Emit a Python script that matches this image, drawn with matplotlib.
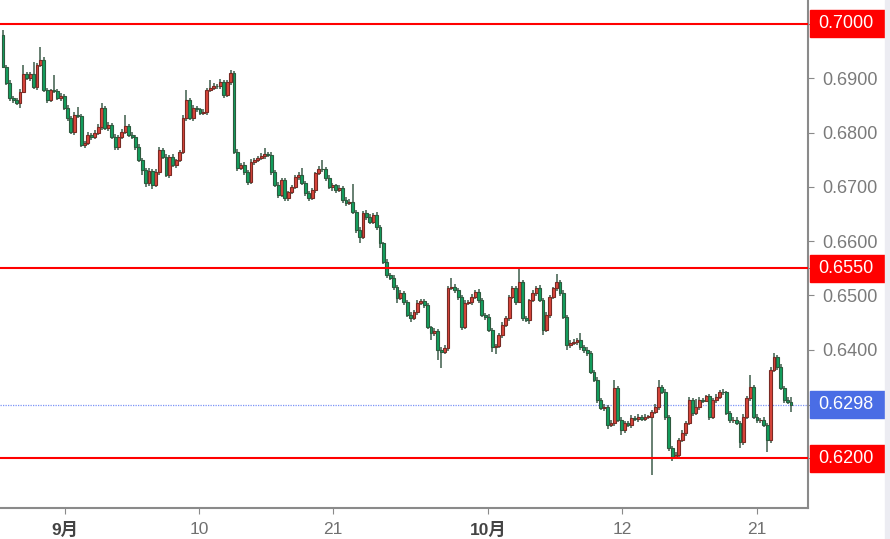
import numpy as np
import matplotlib
matplotlib.use("Agg")
import matplotlib.pyplot as plt
from matplotlib.patches import Rectangle

plt.rcParams['font.family'] = ['Liberation Sans', 'Noto Sans CJK SC', 'DejaVu Sans']

# candle closes (open = previous close), first open given separately
firstOpen = 0.6980
closes = [
    .6921, .6891, .6864, .6860, .6854, .6875, .6908, .6900, .6908, .6884,
    .6924, .6934, .6878, .6860, .6878, .6877, .6864, .6867, .6845, .6827,
    .6801, .6832, .6830, .6777, .6781, .6796, .6792, .6799, .6810, .6845,
    .6808, .6814, .6792, .6773, .6792, .6801, .6812, .6796, .6792, .6773,
    .6749, .6731, .6707, .6729, .6703, .6727, .6768, .6755, .6722, .6755,
    .6740, .6749, .6764, .6827, .6860, .6827, .6845, .6843, .6836, .6838,
    .6878, .6882, .6886, .6885, .6893, .6869, .6893, .6910, .6764, .6734,
    .6740, .6727, .6709, .6746, .6749, .6753, .6757, .6760, .6759, .6727,
    .6703, .6685, .6712, .6679, .6690, .6699, .6718, .6722, .6707, .6688,
    .6679, .6694, .6725, .6733, .6732, .6716, .6699, .6703, .6694, .6698,
    .6676, .6670, .6672, .6653, .6620, .6607, .6652, .6644, .6635, .6648,
    .6626, .6596, .6561, .6537, .6532, .6515, .6495, .6504, .6488, .6464,
    .6458, .6469, .6486, .6489, .6482, .6441, .6430, .6434, .6399, .6395,
    .6403, .6513, .6515, .6510, .6497, .6441, .6486, .6488, .6497, .6506,
    .6491, .6464, .6460, .6436, .6404, .6406, .6427, .6445, .6458, .6497,
    .6513, .6488, .6524, .6458, .6454, .6491, .6504, .6513, .6491, .6436,
    .6464, .6497, .6513, .6524, .6504, .6460, .6408, .6412, .6414, .6418,
    .6404, .6399, .6393, .6359, .6344, .6307, .6292, .6294, .6261, .6265,
    .6329, .6270, .6252, .6265, .6261, .6274, .6272, .6276, .6272, .6276,
    .6276, .6285, .6294, .6331, .6322, .6276, .6218, .6202, .6206, .6233,
    .6246, .6265, .6307, .6283, .6294, .6307, .6306, .6314, .6276, .6307,
    .6312, .6322, .6321, .6283, .6270, .6271, .6265, .6229, .6276, .6311,
    .6331, .6276, .6270, .6271, .6261, .6233, .6362, .6386, .6368, .6329,
    .6307, .6303, .6298,
]

# wick lengths above / below the body, in pips
upperWick = [
    9, 4, 5, 3, 4, 5, 16, 4, 3, 22,
    4, 24, 5, 4, 3, 28, 4, 5, 4, 6,
    4, 5, 15, 4, 3, 5, 4, 6, 5, 9,
    4, 5, 3, 6, 4, 5, 20, 4, 5, 4,
    5, 4, 3, 5, 4, 5, 6, 4, 5, 4,
    5, 3, 4, 6, 18, 4, 5, 4, 3, 5,
    4, 14, 5, 4, 5, 4, 3, 6, 4, 5,
    4, 5, 3, 5, 4, 4, 5, 11, 4, 5,
    4, 6, 5, 4, 3, 5, 4, 5, 13, 4,
    5, 4, 3, 5, 17, 4, 5, 4, 3, 5,
    4, 5, 6, 33, 4, 5, 4, 6, 5, 4,
    5, 4, 3, 5, 4, 6, 4, 5, 4, 3,
    5, 4, 6, 4, 5, 4, 3, 5, 4, 6,
    5, 4, 17, 5, 4, 3, 6, 4, 5, 4,
    5, 4, 3, 6, 4, 5, 4, 5, 4, 3,
    5, 4, 26, 5, 4, 3, 5, 4, 6, 4,
    5, 4, 3, 15, 4, 5, 4, 6, 5, 4,
    12, 4, 5, 4, 3, 5, 4, 6, 4, 5,
    15, 4, 5, 4, 3, 5, 4, 6, 4, 5,
    3, 4, 5, 13, 4, 5, 3, 4, 5, 4,
    6, 4, 5, 4, 14, 5, 4, 3, 5, 4,
    6, 4, 5, 3, 4, 5, 4, 3, 5, 4,
    22, 4, 5, 3, 5, 4, 6, 7, 4, 5,
    4, 5, 9,
]
lowerWick = [
    3, 4, 6, 5, 4, 9, 3, 4, 5, 4,
    5, 3, 4, 5, 4, 5, 4, 6, 3, 5,
    4, 5, 3, 4, 6, 4, 5, 4, 3, 5,
    4, 5, 4, 6, 5, 4, 3, 5, 4, 5,
    4, 9, 8, 5, 7, 4, 5, 4, 4, 5,
    4, 5, 3, 4, 5, 4, 6, 5, 4, 3,
    5, 4, 3, 5, 4, 6, 4, 5, 4, 5,
    4, 5, 6, 4, 5, 3, 4, 5, 4, 6,
    4, 5, 4, 6, 5, 4, 3, 5, 4, 5,
    6, 4, 5, 3, 4, 5, 4, 6, 5, 4,
    5, 5, 4, 3, 5, 11, 4, 5, 4, 3,
    5, 8, 4, 5, 4, 6, 9, 4, 5, 4,
    7, 4, 5, 4, 5, 4, 12, 5, 19, 29,
    4, 5, 4, 6, 5, 5, 4, 3, 5, 4,
    5, 4, 6, 4, 8, 13, 4, 5, 4, 6,
    4, 5, 3, 5, 4, 6, 4, 5, 4, 10,
    4, 5, 4, 6, 5, 4, 8, 5, 4, 5,
    4, 6, 5, 4, 3, 5, 4, 5, 8, 4,
    5, 4, 9, 5, 4, 6, 4, 5, 4, 3,
    4, 107, 4, 5, 4, 6, 5, 7, 4, 5,
    4, 5, 4, 6, 4, 5, 4, 3, 5, 4,
    6, 4, 5, 4, 6, 5, 4, 11, 5, 4,
    5, 4, 6, 5, 4, 22, 5, 4, 6, 4,
    5, 4, 13,
]

tickPos = [18.25, 57.7, 97.1, 142.8, 182.2, 222.0]
tickLabels = ['9月', '10', '21', '10月', '12', '21']
boldTicks = ['9月', '10月']

levelLines = [0.7000, 0.6550, 0.6200]
lastPrice = 0.6298
yTicks = [0.6400, 0.6500, 0.6600, 0.6700, 0.6800, 0.6900]

closes = np.array(closes)
opens = np.concatenate([[firstOpen], closes[:-1]])
highs = np.maximum(opens, closes) + np.array(upperWick) * 0.0001
lows = np.minimum(opens, closes) - np.array(lowerWick) * 0.0001
idx = np.arange(len(closes))
up = closes >= opens

fig = plt.figure(figsize=(8.9, 5.39), dpi=100)
ax = fig.add_axes([0, 31 / 539, 808 / 890, 508 / 539])

# wicks
ax.vlines(idx, lows, highs, color='#3d5c4a', linewidth=1.1, zorder=2)

# bodies
bodyBottom = np.minimum(opens, closes)
bodyHeight = np.maximum(np.abs(closes - opens), 0.00009)
ax.bar(idx[up], bodyHeight[up], bottom=bodyBottom[up], width=0.85,
       color='#d9453b', edgecolor='#7a2a24', linewidth=0.8, zorder=3)
ax.bar(idx[~up], bodyHeight[~up], bottom=bodyBottom[~up], width=0.85,
       color='#12a05e', edgecolor='#2d5a3e', linewidth=0.8, zorder=3)

for lvl in levelLines:
    ax.axhline(lvl, color='#ff0000', linewidth=1.5, zorder=4)
ax.axhline(lastPrice, color='#7b93f7', linewidth=0.9, linestyle=(0, (1, 1)), zorder=1)

nBars = len(closes)
step = 788 / (nBars - 1)
ax.set_xlim(-3 / step, 805 / step)
ax.set_ylim(0.6108, 0.70442)

for side in ['top', 'left']:
    ax.spines[side].set_visible(False)
for side in ['bottom', 'right']:
    ax.spines[side].set_color('#8a8a8a')
    ax.spines[side].set_linewidth(1.5)

ax.set_xticks(tickPos)
ax.set_xticklabels(tickLabels)
for lab in ax.get_xticklabels():
    if lab.get_text() in boldTicks:
        lab.set_fontweight('bold')
        lab.set_color('#444444')
    else:
        lab.set_color('#707070')
ax.tick_params(axis='x', length=4, color='#8a8a8a', labelsize=12.5, pad=6)

ax.yaxis.tick_right()
ax.set_yticks(yTicks + levelLines + [lastPrice])
ax.set_yticklabels([f'{v:.4f}' for v in yTicks] + [''] * 4)
ax.tick_params(axis='y', length=4, color='#8a8a8a', labelsize=13, labelcolor='#7a7a7a', pad=6)

# price tags on the right axis
trans = ax.get_yaxis_transform()
boxH = 27 / 5425
for lvl, col in [(v, '#ff0000') for v in levelLines] + [(lastPrice, '#4a6de5')]:
    ax.add_patch(Rectangle((810 / 808, lvl - boxH / 2), 75 / 808, boxH,
                           transform=trans, color=col, clip_on=False, zorder=5))
    ax.text(818 / 808, lvl, f'{lvl:.4f}', transform=trans, color='white',
            fontsize=13, va='center', ha='left', zorder=6, clip_on=False)

# thin scrollbar edge at far right
fig.patches.append(Rectangle((885 / 890, 0), 5 / 890, 1, transform=fig.transFigure,
                             color='#ececf2', zorder=0))

fig.savefig('out.png', dpi=100)
